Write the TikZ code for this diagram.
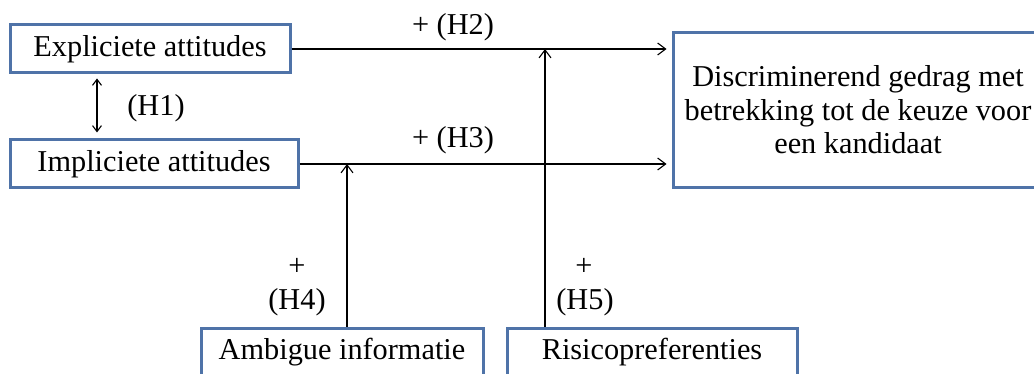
\documentclass[tikz,border=0pt]{standalone}
\usepackage{fontspec}
\setmainfont{Liberation Serif}
\usetikzlibrary{arrows.meta,calc}
\definecolor{boxblue}{RGB}{79,115,168}
\begin{document}
\begin{tikzpicture}[x=1pt,y=-1pt,
  box/.style={draw=boxblue,line width=3pt,fill=white,inner sep=0pt},
  lbl/.style={font=\fontsize{30.3}{33.5}\selectfont,inner sep=0pt},
  conn/.style={line width=1.1pt,-{Straight Barb[length=8pt,width=12pt]}},
  dconn/.style={line width=1.1pt,{Straight Barb[length=6pt,width=9pt]}-{Straight Barb[length=6pt,width=9pt]}},
  ]
\useasboundingbox (0,0) rectangle (1034,374);
\clip (0,0) rectangle (1034,374);
% boxes
\node[box,lbl,minimum width=280pt,minimum height=48pt] (E) at (150,49) {Expliciete attitudes};
\node[box,lbl,minimum width=288pt,minimum height=48pt] (I) at (154,164) {Impliciete attitudes};
\node[box,minimum width=382pt,minimum height=155pt] (D) at (864,110.5) {};
\node[lbl,align=center] (Dtxt) at (858,110) {Discriminerend gedrag met\\betrekking tot de keuze voor\\een kandidaat};
\node[box,lbl,minimum width=282pt,minimum height=48pt] (A) at (342,352) {Ambigue informatie};
\node[box,lbl,minimum width=290pt,minimum height=48pt] (R) at (652,352) {Risicopreferenties};
% helper coordinates
\coordinate (h1) at (97,0);
\coordinate (h4) at (347,164);
\coordinate (h5) at (545,49);
% connectors
\draw[conn,shorten >=5pt] (E.east) -- (E.east -| D.west);
\draw[conn,shorten >=5pt] (I.east) -- (I.east -| D.west);
\draw[dconn,shorten <=4pt,shorten >=6pt] (E.south -| h1) -- (I.north -| h1);
\draw[conn] (h4 |- A.north) -- (h4);
\draw[conn] (h5 |- R.north) -- (h5);
% labels
\node[lbl] (lH2) at (453,27) {+ (H2)};
\node[lbl] (lH3) at (453,140) {+ (H3)};
\node[lbl] (lH1) at (156,108) {(H1)};
\node[lbl] (p4) at (297,267) {+};
\node[lbl] (lH4) at (297,302) {(H4)};
\node[lbl] (p5) at (584,267) {+};
\node[lbl] (lH5) at (585,302) {(H5)};
\end{tikzpicture}
\end{document}
